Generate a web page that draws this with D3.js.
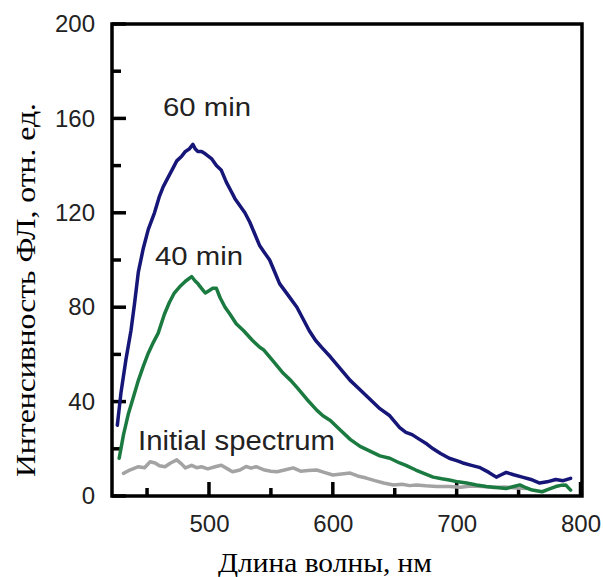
<!DOCTYPE html>
<html>
<head>
	<meta charset="utf-8">
	<title>Спектры ФЛ</title>
	<style type="text/css">
		html, body {
			margin: 0;
			padding: 0;
			background-color: #fff;
		}
		svg text {
			fill: #222;
		}
		.sans {
			font-family: "Liberation Sans", Arial, sans-serif;
		}
		.serif {
			font-family: "Liberation Serif", "Times New Roman", serif;
		}
		.curve {
			fill: none;
			stroke-width: 3.5px;
			stroke-linejoin: round;
			stroke-linecap: round;
		}
		.tickmark {
			stroke: #000;
			stroke-width: 3.5px;
		}
	</style>
</head>
<body>
	<svg id="chart" width="603" height="577"></svg>
	<script src="https://unpkg.com/d3@7.0.1/dist/d3.min.js"></script>
	<script type="text/javascript">
		// wavelength (nm) / intensity pairs
		const wl60 = [426, 429, 433, 437, 440, 443, 447, 451, 456, 460, 463, 467, 470, 474, 478, 481, 484, 487, 489, 491, 494, 497, 502, 506, 510, 514, 518, 521, 525, 529, 533, 537, 541, 545, 549, 553, 557, 564, 571, 576, 581, 586, 591, 598, 606, 614, 622, 630, 638, 646, 654, 659, 664, 670, 676, 681, 687, 694, 700, 705, 712, 719, 726, 732, 736, 740, 746, 753, 760, 767, 773, 780, 786, 792];
		const val60 = [30, 44, 58, 70, 82, 95, 105, 113, 120, 127, 131, 135, 138, 142, 144, 146, 147, 149, 147, 146, 146, 145, 143, 140, 138, 133, 129, 126, 123, 120, 116, 111, 106, 103, 100, 95, 90, 85, 80, 75, 70, 66, 63, 59, 54, 49, 45, 41, 37, 34, 29, 27, 26, 24, 22, 20, 18, 16, 15, 14, 13, 12, 10, 8, 9, 10, 9, 8, 7, 5.5, 6, 7, 6.5, 7.5];

		const wl40 = [427.5, 431, 435, 439, 443, 447, 451, 455, 459, 464, 468, 472, 477, 481, 486, 489, 491, 494, 497, 500, 503, 506, 509, 513, 517, 522, 528, 535, 541, 544, 552, 560, 566, 571, 579, 587, 592, 598, 606, 614, 622, 630, 638, 646, 654, 659, 667, 674, 681, 688, 694, 701, 708, 716, 724, 732, 740, 746, 751, 756, 761, 769, 775, 780, 785, 788, 792];
		const val40 = [16, 26, 35, 42, 49, 55, 60.5, 65, 69, 77, 82, 86, 89, 91, 93, 91, 90, 88, 86, 87, 88, 88, 84, 80, 77, 73, 70, 66, 63, 62, 57, 52, 49, 46, 41, 36.4, 34, 32, 28, 24, 21, 19, 17, 16, 14, 13, 11, 9.5, 8, 7.3, 6.8, 6, 5.5, 4.7, 4, 3.6, 3.2, 4, 4.7, 3.5, 2.5, 1.8, 3, 4, 4.6, 4.7, 2.5];

		const wlInit = [431, 436, 443, 448, 452.5, 456.5, 460, 464.5, 469, 474, 478, 481, 486, 490, 494, 499, 505, 510, 515, 519, 525, 530, 534, 538, 545, 550, 555, 561, 568, 574, 580, 587, 593, 600, 607, 614, 620, 627, 634, 641, 649, 656, 662, 667.5, 675, 684, 694, 703, 712, 721, 730, 739, 748, 756];
		const valInit = [9.6, 11, 12.4, 12, 14.5, 14, 12.8, 12.4, 14, 15.3, 13.5, 11.9, 13, 12, 12.4, 11.5, 12.4, 13, 11.5, 10.3, 11, 12.5, 11.8, 12.4, 11, 10.5, 10.3, 11, 11.9, 10.5, 10.8, 11, 10, 8.9, 9.3, 9.7, 8.5, 7.6, 6.5, 5.5, 4.7, 5, 4.4, 4.7, 4.3, 4, 4, 3.7, 4.2, 4, 3.6, 3.8, 3.4, 3.2];

		const xMajor = [500, 600, 700, 800];
		const xMinor = [450, 550, 650, 750];
		const yMajor = [0, 40, 80, 120, 160, 200];
		const yMinor = [20, 60, 100, 140, 180];

		const seriesNames = ['60 min', '40 min', 'Initial spectrum'];
		const seriesColors = ['#161678', '#1b7a40', '#a3a3a3'];

		const xTitle = 'Длина волны, нм';
		const yTitle = 'Интенсивность ФЛ, отн. ед.';

		const svg = d3.select('#chart');
		const plotLeft = 112, plotRight = 582, plotTop = 24, plotBottom = 496;

		const x = d3.scaleLinear().domain([421.7, 801.2]).range([plotLeft, plotRight]);
		const y = d3.scaleLinear().domain([0, 200]).range([plotBottom, plotTop]);

		function styleAxis(g) {
			g.select('.domain').remove();
			g.attr('font-size', null).attr('font-family', null);
			g.selectAll('.tick line').remove();
			g.selectAll('.tick text').attr('class', 'sans').attr('font-size', 24).attr('fill', '#222');
		}

		// tick labels
		svg.append('g')
			.attr('transform', `translate(0,${plotBottom})`)
			.call(d3.axisBottom(x).tickValues(xMajor).tickSize(0).tickPadding(19))
			.call(styleAxis);
		svg.append('g')
			.attr('transform', `translate(${plotLeft},0)`)
			.call(d3.axisLeft(y).tickValues(yMajor).tickSize(0).tickPadding(17))
			.call(styleAxis);

		// inward tick marks
		const ticks = svg.append('g');
		ticks.selectAll('line.xt')
			.data(xMajor.map(v => [v, 14]).concat(xMinor.map(v => [v, 8])))
			.join('line')
			.attr('class', 'tickmark xt')
			.attr('x1', d => x(d[0]))
			.attr('x2', d => x(d[0]))
			.attr('y1', plotBottom)
			.attr('y2', d => plotBottom - d[1]);
		ticks.selectAll('line.yt')
			.data(yMajor.map(v => [v, 14]).concat(yMinor.map(v => [v, 9])))
			.join('line')
			.attr('class', 'tickmark yt')
			.attr('x1', plotLeft)
			.attr('x2', d => plotLeft + d[1])
			.attr('y1', d => y(d[0]))
			.attr('y2', d => y(d[0]));

		// frame
		svg.append('rect')
			.attr('x', plotLeft)
			.attr('y', plotTop)
			.attr('width', plotRight - plotLeft)
			.attr('height', plotBottom - plotTop)
			.attr('fill', 'none')
			.attr('stroke', '#000')
			.attr('stroke-width', 3.5);

		const line = d3.line()
			.x(d => x(d[0]))
			.y(d => y(d[1]));

		const series = [
			d3.zip(wlInit, valInit),
			d3.zip(wl40, val40),
			d3.zip(wl60, val60)
		];
		const colors = [seriesColors[2], seriesColors[1], seriesColors[0]];

		svg.append('g')
			.selectAll('path')
			.data(series)
			.join('path')
			.attr('class', 'curve')
			.attr('stroke', (d, i) => colors[i])
			.attr('d', line);

		// curve labels
		const labels = [
			{ text: seriesNames[0], x: 163, y: 116, size: 25, w: 88 },
			{ text: seriesNames[1], x: 155, y: 265, size: 25, w: 88 },
			{ text: seriesNames[2], x: 138, y: 450, size: 27, w: 197 }
		];
		svg.append('g')
			.selectAll('text')
			.data(labels)
			.join('text')
			.attr('class', 'sans')
			.attr('x', d => d.x)
			.attr('y', d => d.y)
			.attr('font-size', d => d.size)
			.attr('textLength', d => d.w)
			.attr('lengthAdjust', 'spacingAndGlyphs')
			.text(d => d.text);

		// axis titles
		svg.append('text')
			.attr('class', 'serif')
			.attr('x', 325)
			.attr('y', 572)
			.attr('text-anchor', 'middle')
			.attr('font-size', 28)
			.attr('textLength', 214)
			.attr('lengthAdjust', 'spacingAndGlyphs')
			.style('fill', '#000')
			.text(xTitle);

		svg.append('text')
			.attr('class', 'serif')
			.attr('transform', 'translate(35,290) rotate(-90)')
			.attr('text-anchor', 'middle')
			.attr('font-size', 28)
			.attr('textLength', 374)
			.attr('lengthAdjust', 'spacingAndGlyphs')
			.style('fill', '#000')
			.text(yTitle);
	</script>
</body>
</html>
